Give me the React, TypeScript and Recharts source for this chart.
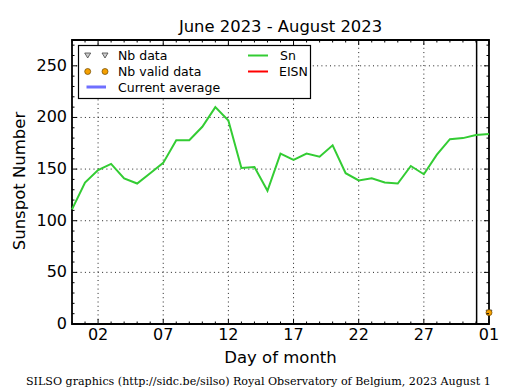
import { ComposedChart, Line, Scatter, XAxis, YAxis, ReferenceLine, ReferenceArea } from 'recharts';

// day index: 0 = June 30, 32 = August 1
const days = [0, 1, 2, 3, 4, 5, 6, 7, 8, 9, 10, 11, 12, 13, 14, 15, 16, 17, 18, 19, 20, 21, 22, 23, 24, 25, 26, 27, 28, 29, 30, 31, 32];
const sn = [111, 137, 149, 155, 141, 136, 146, 156, 178, 178, 191, 210, 197, 151, 152, 129, 165, 159, 165, 162, 173, 146, 139, 141, 137, 136, 153, 145, 164, 179, 180, 183, 184];

const nbDays = [32];
const nbValues = [11];

const xMajorTicks = [2, 7, 12, 17, 22, 27, 32];
const xTickLabels = ['02', '07', '12', '17', '22', '27', '01'];
const yMajorTicks = [0, 50, 100, 150, 200, 250];
const currentDay = 31.05;

const W = 515;
const H = 390;
const margin = { top: 40, right: 26, bottom: 36, left: 0 };
const Y_AXIS_W = 72;
const X_AXIS_H = 30;
const PLOT_LEFT = margin.left + Y_AXIS_W;
const PLOT_TOP = margin.top;
const PLOT_RIGHT = W - margin.right;
const PLOT_BOTTOM = H - margin.bottom - X_AXIS_H;

const FONT = 'DejaVu Sans';

const data = days.map((day, i) => ({ day, sn: sn[i] }));
const nbData = nbDays.map((day, i) => ({ day, nb: nbValues[i] }));

// every day gets a minor tick, every 10 units on y
const xAllTicks = days;
const yAllTicks = Array.from({ length: 28 }, (_, i) => i * 10);

const XTick = (props: any) => {
  const { x, payload } = props;
  const idx = xMajorTicks.indexOf(payload.value);
  const len = idx >= 0 ? 5 : 2.5;
  return (
    <g>
      <line x1={x} x2={x} y1={PLOT_BOTTOM} y2={PLOT_BOTTOM - len} stroke="#000" />
      <line x1={x} x2={x} y1={PLOT_TOP} y2={PLOT_TOP + len} stroke="#000" />
      {idx >= 0 && (
        <text x={x} y={PLOT_BOTTOM + 16} textAnchor="middle" fontSize={16} fontFamily={FONT} fill="#000">
          {xTickLabels[idx]}
        </text>
      )}
    </g>
  );
};

const YTick = (props: any) => {
  const { y, payload } = props;
  const major = yMajorTicks.includes(payload.value);
  const len = major ? 5 : 2.5;
  return (
    <g>
      <line x1={PLOT_LEFT} x2={PLOT_LEFT + len} y1={y} y2={y} stroke="#000" />
      <line x1={PLOT_RIGHT} x2={PLOT_RIGHT - len} y1={y} y2={y} stroke="#000" />
      {major && (
        <text x={PLOT_LEFT - 5} y={y + 5} textAnchor="end" fontSize={16} fontFamily={FONT} fill="#000">
          {payload.value}
        </text>
      )}
    </g>
  );
};

const Triangle = (props: any) => {
  const { cx, cy } = props;
  return <polygon points={`${cx - 3},${cy - 2.5} ${cx + 3},${cy - 2.5} ${cx},${cy + 2.5}`} fill="#ccc" stroke="#444" strokeWidth={0.8} />;
};

const OrangeDot = (props: any) => {
  const { cx, cy } = props;
  return <circle cx={cx} cy={cy} r={3} fill="#f5a000" stroke="#6b4600" strokeWidth={0.7} />;
};

const Overlay = () => (
  <svg width={W} height={H} style={{ position: 'absolute', left: 0, top: 0, pointerEvents: 'none' }}>
    <text x={(PLOT_LEFT + PLOT_RIGHT) / 2} y={32} textAnchor="middle" fontSize={16.4} fontFamily={FONT}>
      June 2023 - August 2023
    </text>
    <text transform="translate(25,181) rotate(-90)" textAnchor="middle" fontSize={16.5} fontFamily={FONT}>
      Sunspot Number
    </text>
    <text x={(PLOT_LEFT + PLOT_RIGHT) / 2} y={363} textAnchor="middle" fontSize={16.5} fontFamily={FONT}>
      Day of month
    </text>
    <text x={26} y={385} fontSize={11.1} fontFamily="DejaVu Serif">
      SILSO graphics (http://sidc.be/silso) Royal Observatory of Belgium, 2023 August 1
    </text>

    {/* legend */}
    <rect x={78.5} y={45.5} width={232} height={53} fill="#fff" stroke="#000" strokeWidth={1.2} />
    <Triangle cx={87.7} cy={55.5} />
    <Triangle cx={105} cy={55.5} />
    <text x={118} y={60} fontSize={12.5} fontFamily={FONT}>Nb data</text>
    <OrangeDot cx={87.7} cy={71.5} />
    <OrangeDot cx={105} cy={71.5} />
    <text x={118} y={76} fontSize={12.5} fontFamily={FONT}>Nb valid data</text>
    <line x1={86.5} x2={106} y1={87} y2={87} stroke="#6f6fff" strokeWidth={3} />
    <text x={118} y={91.5} fontSize={12.5} fontFamily={FONT}>Current average</text>
    <line x1={248} x2={268} y1={55.5} y2={55.5} stroke="#33cc33" strokeWidth={2} />
    <text x={280} y={60} fontSize={12.5} fontFamily={FONT}>Sn</text>
    <line x1={248} x2={268} y1={71.5} y2={71.5} stroke="#ff0000" strokeWidth={2} />
    <text x={279} y={76} fontSize={12.5} fontFamily={FONT}>EISN</text>
  </svg>
);

export default function App() {
  return (
    <div style={{ position: 'absolute', left: 0, top: 0, width: W, height: H, background: '#fff', fontFamily: FONT }}>
      <ComposedChart width={W} height={H} data={data} margin={margin}>
        <XAxis
          dataKey="day"
          type="number"
          domain={[0, 32]}
          ticks={xAllTicks}
          interval={0}
          height={X_AXIS_H}
          axisLine={false}
          tickLine={false}
          tick={<XTick />}
        />
        <YAxis
          type="number"
          domain={[0, 275]}
          ticks={yAllTicks}
          interval={0}
          width={Y_AXIS_W}
          axisLine={false}
          tickLine={false}
          tick={<YTick />}
        />
        {xMajorTicks.slice(0, -1).map((v) => (
          <ReferenceLine key={'gx' + v} x={v} stroke="#222" strokeWidth={1} strokeDasharray="1 3.3" />
        ))}
        {yMajorTicks.slice(1).map((v) => (
          <ReferenceLine key={'gy' + v} y={v} stroke="#222" strokeWidth={1} strokeDasharray="1 3.3" />
        ))}
        <ReferenceLine x={currentDay} stroke="#000" strokeWidth={1.5} />
        <Line dataKey="sn" stroke="#33cc33" strokeWidth={2} dot={false} isAnimationActive={false} />
        <Scatter data={nbData} dataKey="nb" shape={<Triangle />} isAnimationActive={false} />
        <Scatter data={nbData} dataKey="nb" shape={<OrangeDot />} isAnimationActive={false} />
        <ReferenceArea x1={0} x2={32} y1={0} y2={275} fill="none" stroke="#000" strokeWidth={1.8} />
      </ComposedChart>
      <Overlay />
    </div>
  );
}
